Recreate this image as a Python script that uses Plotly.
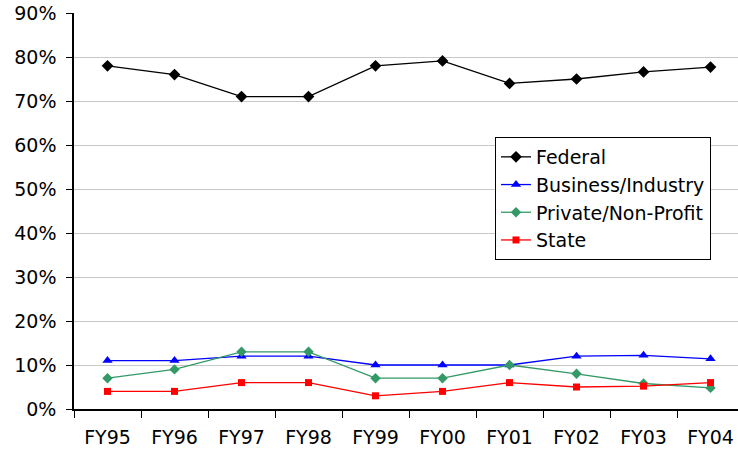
import plotly.graph_objects as go

years = ["FY95", "FY96", "FY97", "FY98", "FY99", "FY00", "FY01", "FY02", "FY03", "FY04"]
federal = [78, 76, 71, 71, 78, 79.1, 74, 75, 76.6, 77.7]
business = [11, 11, 12, 12, 10, 10, 10, 12, 12.2, 11.4]
private = [7, 9, 13, 13, 7, 7, 10, 8, 5.8, 4.8]
state = [4, 4, 6, 6, 3, 4, 6, 5, 5.2, 6]

series = [
    ("Federal", federal, "#000000", "diamond", 9),
    ("Business/Industry", business, "#0000FF", "triangle-up", 9),
    ("Private/Non-Profit", private, "#339966", "diamond", 8),
    ("State", state, "#FF0000", "square", 7),
]

fig = go.Figure()
for name, vals, color, sym, size in series:
    fig.add_trace(go.Scatter(
        x=years, y=[v / 100 for v in vals], name=name, mode="lines+markers",
        line=dict(color=color, width=1.3),
        marker=dict(color=color, symbol=sym, size=size),
    ))

font = "DejaVu Sans"
fig.update_layout(
    width=738, height=454,
    margin=dict(l=74, r=0, t=13, b=45, autoexpand=False),
    paper_bgcolor="white", plot_bgcolor="white",
    showlegend=True,
    legend=dict(
        x=(495 - 74) / 664, y=(409 - 137) / 396,
        xanchor="left", yanchor="top",
        bgcolor="white", bordercolor="#000000", borderwidth=1,
        font=dict(family=font, size=19, color="#000000"),
        tracegroupgap=0, itemwidth=30,
    ),
    xaxis=dict(
        type="category", categoryorder="array", categoryarray=years,
        range=[-0.5, 9.41],
        showline=True, linecolor="#000000", linewidth=1.5,
        ticks="outside", tickson="boundaries", ticklen=7, tickcolor="#000000",
        ticklabelstandoff=10,
        showgrid=False, zeroline=False,
        tickfont=dict(family=font, size=19, color="#000000"),
    ),
    yaxis=dict(
        range=[0, 0.9], tickvals=[i / 10 for i in range(10)], tickformat=".0%",
        showline=True, linecolor="#000000", linewidth=1.5,
        ticks="outside", ticklen=6, tickcolor="#000000",
        ticklabelstandoff=6,
        showgrid=True, gridcolor="#c8c8c8", gridwidth=1, zeroline=False,
        tickfont=dict(family=font, size=19, color="#000000"),
    ),
)

fig.write_html("out.html")
